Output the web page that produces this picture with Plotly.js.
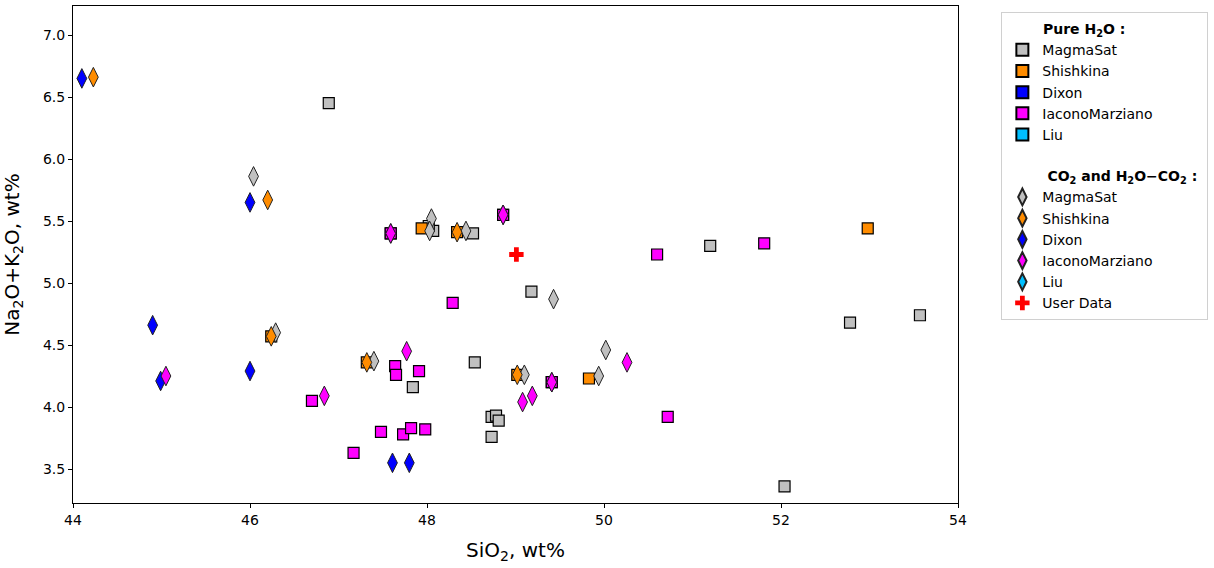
<!DOCTYPE html>
<html>
<head>
<meta charset="utf-8">
<script src="https://cdn.plot.ly/plotly-3.0.1.min.js"></script>
<style>
  body { margin: 0; background: #fff; }
  #chart { width: 1214px; height: 568px; }
</style>
</head>
<body>
<div id="chart"></div>
<script>
'use strict';

// Pure H2O, squares
const magmasatSqX = [46.89, 48.07, 48.02, 48.52, 49.18, 48.54, 47.84, 48.73, 48.78, 48.81, 48.73, 51.20, 52.78, 53.57, 52.04];
const magmasatSqY = [6.45, 5.42, 5.46, 5.40, 4.93, 4.36, 4.16, 3.92, 3.93, 3.89, 3.76, 5.30, 4.68, 4.74, 3.36];

const shishkinaSqX = [47.94, 48.34, 46.24, 47.32, 49.02, 49.83, 52.98];
const shishkinaSqY = [5.44, 5.41, 4.57, 4.36, 4.26, 4.23, 5.44];

const dixonSqX = [47.59, 48.86, 49.41];
const dixonSqY = [5.40, 5.55, 4.20];

const iaconoSqX = [47.59, 48.86, 49.41, 48.29, 50.60, 51.81, 47.64, 47.65, 47.91, 46.70, 47.48, 47.73, 47.82, 47.98, 47.17, 50.72];
const iaconoSqY = [5.40, 5.55, 4.20, 4.84, 5.23, 5.32, 4.33, 4.26, 4.29, 4.05, 3.80, 3.78, 3.83, 3.82, 3.63, 3.92];

const liuSqX = [];
const liuSqY = [];

// CO2 and H2O-CO2, diamonds
const magmasatDiX = [46.04, 46.29, 47.40, 48.05, 48.03, 48.44, 49.43, 50.02, 49.94, 49.10];
const magmasatDiY = [5.86, 4.60, 4.37, 5.52, 5.42, 5.42, 4.87, 4.46, 4.25, 4.26];

const shishkinaDiX = [44.23, 46.20, 46.24, 47.32, 48.34, 49.02];
const shishkinaDiY = [6.66, 5.67, 4.57, 4.36, 5.41, 4.26];

const dixonDiX = [44.10, 46.00, 44.90, 44.99, 46.00, 47.61, 47.80, 47.59, 48.86, 49.41];
const dixonDiY = [6.65, 5.65, 4.66, 4.21, 4.29, 3.55, 3.55, 5.40, 5.55, 4.20];

const iaconoDiX = [45.05, 46.84, 47.77, 47.59, 48.86, 49.41, 49.19, 49.08, 50.26];
const iaconoDiY = [4.25, 4.09, 4.45, 5.40, 5.55, 4.20, 4.09, 4.04, 4.36];

const liuDiX = [];
const liuDiY = [];

const userX = [49.01];
const userY = [5.23];

const modelNames = ['MagmaSat', 'Shishkina', 'Dixon', 'IaconoMarziano', 'Liu'];
const modelColors = ['#C0C0C0', '#FF8C00', '#0000FF', '#FF00FF', '#00BFFF'];

const squareData = [
    [magmasatSqX, magmasatSqY],
    [shishkinaSqX, shishkinaSqY],
    [dixonSqX, dixonSqY],
    [iaconoSqX, iaconoSqY],
    [liuSqX, liuSqY]
];
const diamondData = [
    [magmasatDiX, magmasatDiY],
    [shishkinaDiX, shishkinaDiY],
    [dixonDiX, dixonDiY],
    [iaconoDiX, iaconoDiY],
    [liuDiX, liuDiY]
];

// headers sit indented in the legend, as in the original
const pad = n => '\u00a0'.repeat(n);
const pureTitle = pad(8) + '<b>Pure H<sub>2</sub>O :</b>';
const mixedTitle = pad(9) + '<b>CO<sub>2</sub> and H<sub>2</sub>O\u2212CO<sub>2</sub> :</b>';

const traces = [];

squareData.forEach((d, i) => {
    traces.push({
        type: 'scatter',
        mode: 'markers',
        x: d[0].length ? d[0] : [null],
        y: d[1].length ? d[1] : [null],
        name: modelNames[i],
        legendgroup: 'pure',
        legendgrouptitle: i === 0 ? {text: pureTitle, font: {size: 14}} : undefined,
        marker: {symbol: 'square', size: 11, color: modelColors[i], line: {color: '#000', width: 1.2}}
    });
});

diamondData.forEach((d, i) => {
    traces.push({
        type: 'scatter',
        mode: 'markers',
        x: d[0].length ? d[0] : [null],
        y: d[1].length ? d[1] : [null],
        name: modelNames[i],
        legendgroup: 'mixed',
        legendgrouptitle: i === 0 ? {text: mixedTitle, font: {size: 14}} : undefined,
        marker: {symbol: 'diamond-tall', size: 14, color: modelColors[i], line: {color: '#222', width: 1}}
    });
});

traces.push({
    type: 'scatter',
    mode: 'markers',
    x: userX,
    y: userY,
    name: 'User Data',
    legendgroup: 'mixed',
    marker: {symbol: 'cross', size: 12, color: '#FF0000', line: {width: 0}}
});

const layout = {
    width: 1214,
    height: 568,
    margin: {l: 73, r: 256, t: 6, b: 65},
    paper_bgcolor: '#fff',
    plot_bgcolor: '#fff',
    font: {family: 'DejaVu Sans', size: 14, color: '#000'},
    showlegend: true,
    legend: {
        x: 1.049, y: 0.988, xanchor: 'left', yanchor: 'top',
        bordercolor: '#d0d0d0', borderwidth: 1,
        font: {size: 14},
        traceorder: 'grouped',
        tracegroupgap: 20,
        itemsizing: 'constant'
    },
    xaxis: {
        range: [44, 54],
        dtick: 2,
        tick0: 44,
        showgrid: false,
        zeroline: false,
        showline: true, mirror: true, linecolor: '#000', linewidth: 1,
        ticks: 'outside', ticklen: 4, tickcolor: '#000',
        tickfont: {size: 14},
        title: {text: 'SiO<sub>2</sub>, wt%', font: {size: 20}, standoff: 16}
    },
    yaxis: {
        range: [3.226, 7.234],
        dtick: 0.5,
        tick0: 3.5,
        tickformat: '.1f',
        showgrid: false,
        zeroline: false,
        showline: true, mirror: true, linecolor: '#000', linewidth: 1,
        ticks: 'outside', ticklen: 4, tickcolor: '#000',
        tickfont: {size: 14},
        title: {text: 'Na<sub>2</sub>O+K<sub>2</sub>O, wt%', font: {size: 20}, standoff: 18}
    }
};

Plotly.newPlot('chart', traces, layout, {displayModeBar: false, staticPlot: true});
</script>
</body>
</html>
